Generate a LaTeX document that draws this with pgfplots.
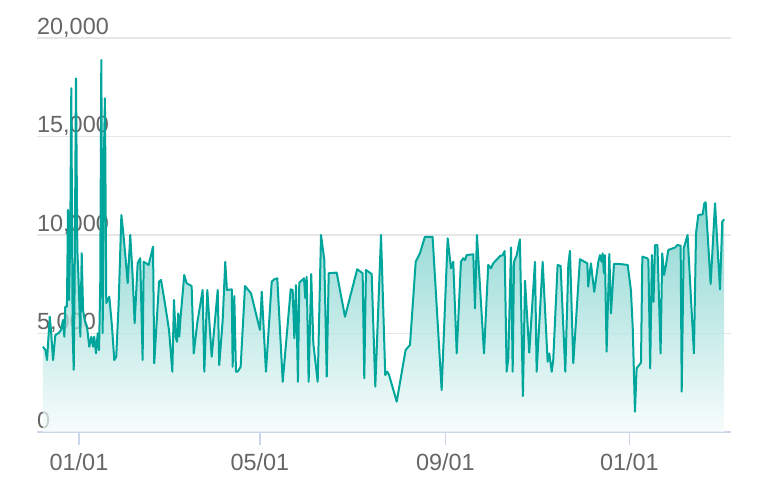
\documentclass[border=0pt]{standalone}
\usepackage{fontspec}
\setmainfont{Liberation Sans}
\usepackage{pgfplots}
\usepackage{pgfplotstable}
\pgfplotsset{compat=1.18}

\definecolor{tealc}{RGB}{0,166,155}
\definecolor{gridc}{RGB}{230,230,230}
\definecolor{axisc}{RGB}{204,214,235}
\definecolor{labelc}{RGB}{102,102,102}

% day (0 = 01/01), value
\pgfplotstableread{
d v
-23.9 4330
-22.3 4160
-21.2 3650
-19.4 5850
-18.6 5180
-17.2 3650
-15.7 4920
-13.5 5020
-11.9 5180
-10.6 5690
-9.7 4840
-9.1 6360
-8.0 6360
-7.3 11270
-6.6 6700
-5.8 9910
-5.1 17450
-4.2 5020
-3.5 3150
-2.9 7560
-2.0 17950
-1.1 9240
-0.2 7560
0.9 4840
1.8 9080
2.7 6190
3.8 5690
5.3 5350
6.8 4330
8.2 4840
9.3 4330
10.1 4840
11.3 3990
12.4 5010
13.3 4160
14.1 7560
14.8 18880
15.7 5020
16.4 13470
17.2 16940
18.1 6540
19.0 6700
20.1 6870
21.9 5350
23.4 3650
24.7 3820
26.3 6540
28.1 11010
29.2 10250
31.0 8730
32.3 7560
34.0 10000
35.6 7880
36.9 5520
38.9 8560
40.6 8820
42.2 3650
42.9 8640
46.2 8480
49.1 9410
49.9 3490
53.1 7630
54.4 7720
57.0 6530
59.7 5180
61.9 3060
63.0 6700
64.1 4840
65.0 4580
65.8 6020
66.5 4840
67.4 5850
69.8 7970
71.4 7550
74.7 7410
76.1 3990
78.4 5520
82.0 7210
83.1 3060
85.1 7210
88.0 3820
92.0 7210
93.0 3400
95.3 5690
97.0 8640
98.1 7210
101.3 7240
101.9 3310
103.0 6900
104.1 3060
105.2 3060
107.2 3310
110.1 7410
114.1 7040
120.0 5180
121.2 7120
124.0 3060
127.8 7630
129.5 7750
131.5 7800
135.1 2550
140.4 7240
141.7 7210
142.8 4760
143.9 7460
145.2 2550
146.1 7580
148.1 7720
149.2 7800
150.1 6790
151.0 7880
152.3 2550
154.0 8020
155.4 4500
158.3 2550
160.5 10000
162.7 8730
164.3 2810
165.6 8060
170.9 8090
176.4 5850
184.5 8260
188.1 8060
189.2 2730
190.3 8220
194.1 8020
196.5 2300
200.3 10000
203.1 2890
204.5 3060
205.6 2900
210.7 1540
216.6 4160
219.5 4420
223.3 8640
226.1 9070
229.4 9910
234.5 9910
240.5 2130
244.5 9830
246.7 8310
248.2 8640
250.5 3990
253.3 8640
254.8 8820
256.0 8730
257.1 8980
261.5 9020
262.6 6280
263.9 10000
268.6 3990
271.4 8480
273.2 8310
274.7 8560
279.2 8930
281.0 8980
282.3 9190
283.6 3060
284.7 3740
286.5 9370
287.6 3060
288.5 8640
290.3 8980
292.4 9780
294.4 1830
295.8 7680
298.6 4030
302.4 8640
303.5 3060
307.5 8640
310.8 3570
311.9 3990
313.5 3060
314.5 3650
317.4 8480
319.4 8430
322.5 3060
324.5 8480
325.6 9200
327.8 3490
332.2 8770
337.1 8560
337.7 7380
339.5 8560
341.7 7120
344.4 8640
345.5 8980
346.6 8640
347.3 9070
348.1 8060
348.8 8980
349.9 4080
351.7 9040
352.8 6020
354.8 8530
358.3 8530
363.9 8480
366.0 7210
367.2 5350
368.7 1030
369.8 3230
372.7 3520
373.6 8900
376.9 8820
377.6 8730
378.8 3230
379.9 8980
381.0 6610
382.0 9490
383.6 9490
385.7 3990
386.8 9070
388.0 7970
389.1 8390
390.8 9240
395.2 9360
396.8 9490
399.0 9460
399.7 2050
401.0 9320
403.6 10000
407.8 3990
409.2 10090
410.7 11010
413.6 11050
414.7 11610
415.6 11660
418.9 7510
421.8 11610
425.1 7240
426.6 10680
427.9 10800
}\sales

\begin{document}
\begin{tikzpicture}
\path (-37bp,-70bp) rectangle (729bp,432bp);
\begin{axis}[
  at={(0,0)}, anchor=south west,
  scale only axis,
  width=694bp, height=394bp,
  xmin=-27.85, xmax=432.4,
  ymin=0, ymax=20000,
  axis x line=bottom,
  axis y line=left,
  x axis line style={draw=axisc, line width=1.5bp, -},
  y axis line style={draw=none},
  xtick={0,120,243,365},
  xticklabels={01/01,05/01,09/01,01/01},
  ytick={0,5000,10000,15000,20000},
  scaled y ticks=false,
  /pgf/number format/.cd, 1000 sep={,}, assume math mode=true, /pgfplots/.cd,
  tick align=outside,
  major tick length=13bp,
  xtick style={draw=axisc, line width=1.2bp},
  ytick style={draw=none},
  ymajorgrids,
  grid style={draw=gridc, line width=1.3bp},
  tick label style={font=\fontsize{23.5}{28}\selectfont, text=labelc, inner sep=0pt},
  xticklabel style={anchor=base, yshift=-25bp},
  yticklabel style={anchor=base west, xshift=13bp, yshift=3.5bp},
]
\addplot[draw=none, top color=tealc, bottom color=tealc!4!white, fill opacity=0.72]
  table[x=d, y=v] {\sales} \closedcycle;
\addplot[tealc, line width=2bp, line join=round, mark=none]
  table[x=d, y=v] {\sales};
\end{axis}
\end{tikzpicture}
\end{document}
